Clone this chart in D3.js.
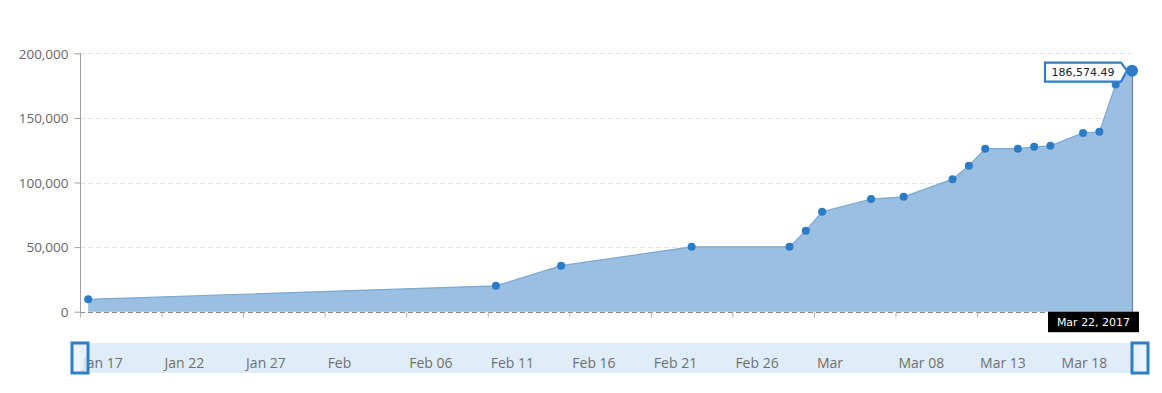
<!DOCTYPE html>
<html>
<head>
<meta charset="utf-8">
<script src="https://cdn.jsdelivr.net/npm/d3@7"></script>
<style>
  html, body { margin: 0; padding: 0; background: #fff; }
  svg { display: block; }
</style>
</head>
<body>
<svg id="chart" width="1162" height="393"></svg>
<script>
// ---- data ----
const dates = ["2017-01-17","2017-02-11","2017-02-15","2017-02-23","2017-03-01","2017-03-02",
  "2017-03-03","2017-03-06","2017-03-08","2017-03-11","2017-03-12","2017-03-13","2017-03-15",
  "2017-03-16","2017-03-17","2017-03-19","2017-03-20","2017-03-21","2017-03-22"];
const values = [9600, 20000, 35600, 50200, 50200, 62700, 77300, 87200, 88900, 102600, 113000,
  126200, 126200, 127600, 128400, 138400, 139200, 175800, 186574.49];
const yTicks = [0, 50000, 100000, 150000, 200000];
const xTickDates = ["2017-01-17","2017-01-22","2017-01-27","2017-02-01","2017-02-06","2017-02-11",
  "2017-02-16","2017-02-21","2017-02-26","2017-03-03","2017-03-08","2017-03-13","2017-03-18"];
const xTickLabels = ["Jan 17","Jan 22","Jan 27","Feb","Feb 06","Feb 11","Feb 16","Feb 21",
  "Feb 26","Mar","Mar 08","Mar 13","Mar 18"];
const hoverIndex = 18;
const hoverDateLabel = "Mar 22, 2017";

// ---- helpers ----
const noon = s => new Date(s + "T12:00:00Z");
const midnight = s => new Date(s + "T00:00:00Z");
const pts = dates.map((d, i) => ({ date: noon(d), value: values[i] }));

const svg = d3.select("#chart");
const plotL = 80, plotR = 1132, plotT = 53.3, plotB = 311.7;

const x = d3.scaleUtc()
  .domain([midnight(dates[0]), noon(dates[dates.length - 1])])
  .range([plotL, plotR]);
const y = d3.scaleLinear().domain([0, 200000]).range([plotB, plotT]);

// grid lines
const grid = svg.append("g");
grid.selectAll("line").data(yTicks.filter(v => v > 0)).join("line")
  .attr("x1", plotL).attr("x2", plotR)
  .attr("y1", d => Math.round(y(d)) + 0.5).attr("y2", d => Math.round(y(d)) + 0.5)
  .attr("stroke", "#e3e3e3").attr("stroke-dasharray", "5,3").attr("stroke-width", 1);

// y axis
const yAxis = d3.axisLeft(y).tickValues(yTicks).tickSize(6).tickPadding(6)
  .tickFormat(d3.format(",d"));
const yg = svg.append("g").attr("transform", `translate(${plotL + 0.5},0)`).call(yAxis);
yg.select(".domain").attr("stroke", "#a0a0a0").attr("d", `M0,${plotT}V${plotB + 4}`);
yg.selectAll(".tick line").attr("stroke", "#a0a0a0");
yg.selectAll(".tick text").attr("fill", "#666").attr("font-family", "'Open Sans', sans-serif")
  .attr("font-size", "13.5px").attr("dy", "0.35em");

// area
const area = d3.area().x(d => x(d.date)).y0(y(0)).y1(d => y(d.value));
svg.append("path").datum(pts).attr("d", area).attr("fill", "#9bbfe3");
const line = d3.line().x(d => x(d.date)).y(d => y(d.value));
svg.append("path").datum(pts).attr("d", line).attr("fill", "none")
  .attr("stroke", "#7ea7cf").attr("stroke-width", 1.2);

// x axis (baseline + ticks, no labels)
const xAxis = d3.axisBottom(x).tickValues(xTickDates.map(midnight)).tickSize(5).tickFormat("");
const xg = svg.append("g").attr("transform", `translate(0,${Math.round(plotB) + 0.5})`).call(xAxis);
xg.select(".domain").attr("stroke", "#8a8a8a").attr("stroke-dasharray", "5,3")
  .attr("d", `M${plotL},0H${plotR}`);
xg.selectAll(".tick line").attr("stroke", "#b0b0b0");

// crosshair
const hp = pts[hoverIndex];
svg.append("line").attr("x1", x(hp.date) + 0.5).attr("x2", x(hp.date) + 0.5)
  .attr("y1", y(hp.value)).attr("y2", plotB)
  .attr("stroke", "#6d7f92").attr("stroke-width", 1.2);

// markers
svg.append("g").selectAll("circle").data(pts).join("circle")
  .attr("cx", d => x(d.date)).attr("cy", d => y(d.value))
  .attr("r", (d, i) => i === hoverIndex ? 6 : 4)
  .attr("fill", "#2c7bc6");

// tooltip callout
const tx = x(hp.date), ty = y(hp.value);
const tipR = tx - 6, tipL = tx - 87, tipT = ty - 8, tipB = ty + 11;
svg.append("path")
  .attr("d", `M${tipL},${tipT}H${tipR - 5}L${tipR - 5},${tipT}L${tipR + 1},${ty}L${tipR - 5},${tipB}H${tipL}Z`)
  .attr("fill", "#fff").attr("stroke", "#2f7ec8").attr("stroke-width", 2.2);
svg.append("text").attr("x", (tipL + tipR - 5) / 2).attr("y", ty + 5)
  .attr("text-anchor", "middle").attr("font-family", "'DejaVu Sans', sans-serif")
  .attr("font-size", "11px").attr("fill", "#222").text(d3.format(",.2f")(hp.value));

// crosshair x label
svg.append("rect").attr("x", tx - 84).attr("y", plotB).attr("width", 91).attr("height", 20.5)
  .attr("fill", "#000");
svg.append("text").attr("x", tx - 38.5).attr("y", plotB + 14.5).attr("text-anchor", "middle")
  .attr("font-family", "'DejaVu Sans', sans-serif").attr("font-size", "11px")
  .attr("fill", "#fff").text(hoverDateLabel);

// navigator
const navL = plotL, navR = 1140, navT = 343, navB = 373;
const nx = d3.scaleUtc().domain(x.domain()).range([navL, navR - 8]);
svg.append("rect").attr("x", navL).attr("y", navT).attr("width", navR - navL)
  .attr("height", navB - navT).attr("fill", "#dfedf9");
svg.append("g").selectAll("text").data(xTickDates).join("text")
  .attr("x", d => nx(midnight(d)) + 3).attr("y", 367.5)
  .attr("font-family", "'Open Sans', sans-serif").attr("font-size", "14px")
  .attr("fill", "#6f6f6f").text((d, i) => xTickLabels[i]);
[navL, navR].forEach(cx => {
  svg.append("rect").attr("x", cx - 8).attr("y", 343).attr("width", 16).attr("height", 30)
    .attr("fill", "#e8f1fb").attr("fill-opacity", 0.75)
    .attr("stroke", "#2f7ec8").attr("stroke-width", 3);
});
</script>
</body>
</html>
